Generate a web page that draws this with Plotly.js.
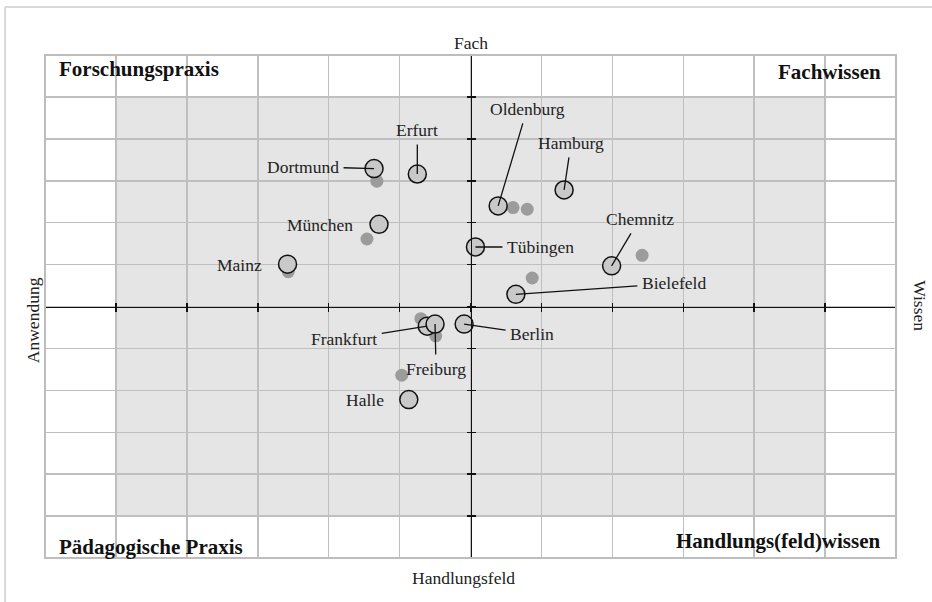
<!DOCTYPE html>
<html><head><meta charset="utf-8">
<script src="https://cdn.plot.ly/plotly-3.0.1.min.js"></script>
<style>html,body{margin:0;padding:0;background:#fff}#chart{width:932px;height:602px}</style>
</head><body><div id="chart"></div>
<script>
// --- data ---
const cities = ["Dortmund","Erfurt","München","Mainz","Oldenburg","Hamburg","Tübingen","Chemnitz","Bielefeld","Frankfurt","Freiburg","Berlin","Halle"];
const cityX  = [-1.36,-0.75,-1.29,-2.58, 0.39, 1.32, 0.07, 1.99, 0.64,-0.61,-0.50,-0.09,-0.87];
const cityY  = [ 3.29, 3.16, 1.96, 1.01, 2.40, 2.78, 1.42, 0.97, 0.29,-0.47,-0.42,-0.42,-2.22];
const refX   = [-1.32,-1.46,-2.57, 0.60, 0.80, 2.42, 0.87,-0.70,-0.49,-0.97];
const refY   = [ 2.99, 1.61, 0.83, 2.36, 2.32, 1.22, 0.68,-0.29,-0.70,-1.64];
const tickValues = [-6,-5,-4,-3,-2,-1,0,1,2,3,4,5,6];
const quadrantNames = ["Forschungspraxis","Fachwissen","Pädagogische Praxis","Handlungs(feld)wissen"];
const axisNames = {top:"Fach", bottom:"Handlungsfeld", left:"Anwendung", right:"Wissen"};

// --- label placement (pixels) ---
const labelDX   = [-71,  0, -59, -48,  29,   7, 65,  28, 158, -83,  1, 68, -44];
const labelDY   = [ -2,-44,   1,   1, -97, -47,  0, -47, -11,  13, 45, 10,   0];
const labelLine = [true,true,false,false,true,true,true,true,true,true,true,true,false];

const FONT = "'Liberation Serif', 'DejaVu Serif', serif";
const TXT = "#222";
const LSIZE = 17.5;

const traces = [
  {type:"scatter", mode:"markers", x:refX, y:refY, hoverinfo:"skip",
   marker:{size:13, color:"#9c9c9c", line:{width:0}}},
  {type:"scatter", mode:"markers", x:cityX, y:cityY, text:cities, hoverinfo:"text",
   marker:{size:18, color:"#c9c9c9", line:{color:"#111", width:1.5}}},
  {type:"scatter", mode:"markers", x:[], y:[], xaxis:"x2", yaxis:"y2", hoverinfo:"skip"}
];

const annotations = cities.map((c,i)=> labelLine[i] ? {
  x:cityX[i], y:cityY[i], text:c, showarrow:true, ax:labelDX[i], ay:labelDY[i],
  arrowhead:0, arrowwidth:1.3, arrowcolor:"#111", standoff:0, borderpad:4,
  font:{family:FONT, size:LSIZE, color:TXT}
} : {
  x:cityX[i], y:cityY[i], text:c, showarrow:false, xshift:labelDX[i], yshift:-labelDY[i],
  xanchor:"center", yanchor:"middle",
  font:{family:FONT, size:LSIZE, color:TXT}
});

const qPos = [
  {x:0.014, y:0.972, xanchor:"left"},
  {x:0.985, y:0.966, xanchor:"right"},
  {x:0.014, y:0.021, xanchor:"left"},
  {x:0.985, y:0.034, xanchor:"right"}
];
quadrantNames.forEach((q,i)=>annotations.push({
  xref:"paper", yref:"paper", x:qPos[i].x, y:qPos[i].y, xanchor:qPos[i].xanchor, yanchor:"middle",
  text:"<b>"+q+"</b>", showarrow:false, font:{family:FONT, size:21, color:"#111"}
}));
const axisTitle = (text, x, y, angle) => ({xref:"paper", yref:"paper", x:x, y:y, xanchor:"center", yanchor:"middle",
  text:text, textangle:angle, showarrow:false, font:{family:FONT, size:LSIZE, color:TXT}});
annotations.push(
  axisTitle(axisNames.top, 0.5, 1.024, 0),
  axisTitle(axisNames.bottom, 0.492, -0.04, 0),
  axisTitle(axisNames.left, -0.014, 0.473, -90),
  axisTitle(axisNames.right, 1.028, 0.501, 90)
);

const baseAxis = {
  range:[-6,6], tickmode:"array", tickvals:tickValues, showticklabels:false,
  zeroline:false, fixedrange:true, anchor:"free", position:0.5,
  tickcolor:"#111", tickwidth:1.5, ticklen:4
};
const layout = {
  width:932, height:602,
  margin:{l:45, r:36, t:55, b:44, pad:0},
  paper_bgcolor:"#fff", plot_bgcolor:"rgba(0,0,0,0)",
  showlegend:false,
  xaxis: Object.assign({}, baseAxis, {showgrid:true, gridcolor:"#bfbfbf", gridwidth:1.5,
          showline:true, linecolor:"#111", linewidth:1.5, ticks:"outside"}),
  yaxis: Object.assign({}, baseAxis, {showgrid:true, gridcolor:"#bfbfbf", gridwidth:1.5,
          showline:true, linecolor:"#111", linewidth:1.5, ticks:"outside"}),
  xaxis2: Object.assign({}, baseAxis, {overlaying:"x", showgrid:false, showline:false, ticks:"inside"}),
  yaxis2: Object.assign({}, baseAxis, {overlaying:"y", showgrid:false, showline:false, ticks:"inside"}),
  shapes:[
    {type:"rect", xref:"x", yref:"y", x0:-5, x1:5, y0:-5, y1:5, fillcolor:"#e5e5e5", line:{width:0}, layer:"below"},
    {type:"rect", xref:"paper", yref:"paper", x0:0, x1:1, y0:0, y1:1, line:{color:"#bdbdbd", width:2}, layer:"above"},
    {type:"line", xref:"paper", yref:"paper", x0:-0.047, x1:1.06, y0:1.0954, y1:1.0954, line:{color:"#d9d9d9", width:2}},
    {type:"line", xref:"paper", yref:"paper", x0:-0.047, x1:-0.047, y0:-0.12, y1:1.0954, line:{color:"#d9d9d9", width:2}}
  ],
  annotations: annotations
};
Plotly.newPlot("chart", traces, layout, {displayModeBar:false, staticPlot:true});
</script></body></html>
